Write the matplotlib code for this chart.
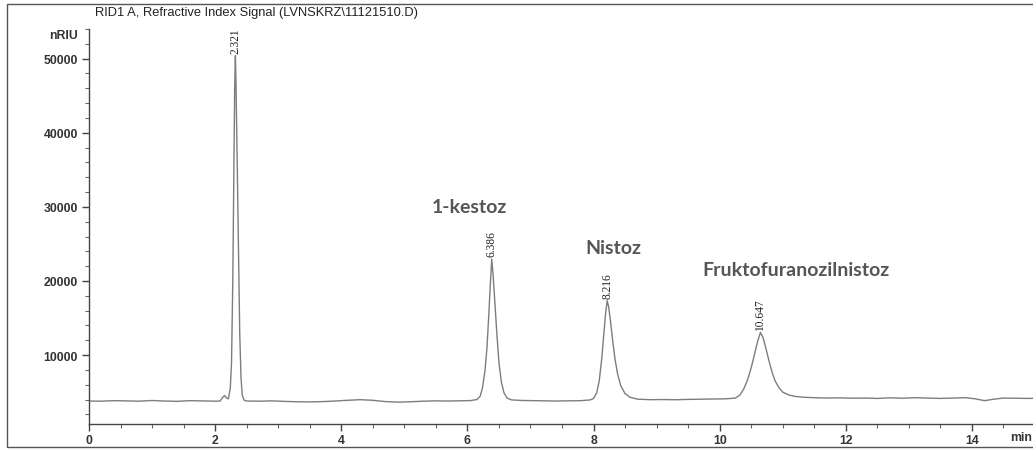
import matplotlib

matplotlib.use("Agg")
import matplotlib.pyplot as plt
from matplotlib.patches import Rectangle
from matplotlib.ticker import MultipleLocator

# retention time (min) and detector signal (nRIU)
trace_t = [
    0.00, 0.20, 0.40, 0.60, 0.80, 1.00, 1.20, 1.40, 1.60, 1.80, 2.00, 2.08,
    2.12, 2.15, 2.18, 2.21, 2.24, 2.26, 2.28, 2.30, 2.31, 2.321, 2.33, 2.35,
    2.37, 2.39, 2.41, 2.43, 2.46, 2.50, 2.70, 2.90, 3.10, 3.30, 3.50, 3.70,
    3.90, 4.10, 4.30, 4.50, 4.70, 4.90, 5.10, 5.30, 5.50, 5.70, 5.90, 6.05,
    6.15, 6.20, 6.24, 6.28, 6.31, 6.34, 6.36, 6.386, 6.41, 6.44, 6.47, 6.50,
    6.54, 6.58, 6.63, 6.70, 6.85, 7.00, 7.20, 7.40, 7.60, 7.80, 7.95, 8.00,
    8.05, 8.09, 8.13, 8.16, 8.19, 8.216, 8.24, 8.27, 8.30, 8.34, 8.38, 8.43,
    8.50, 8.58, 8.70, 8.90, 9.10, 9.30, 9.50, 9.70, 9.90, 10.10, 10.25, 10.32,
    10.38, 10.44, 10.50, 10.55, 10.60, 10.647, 10.69, 10.73, 10.78, 10.83,
    10.88, 10.94, 11.00, 11.10, 11.20, 11.35, 11.50, 11.70, 11.90, 12.10,
    12.30, 12.50, 12.70, 12.90, 13.10, 13.30, 13.50, 13.70, 13.90, 14.05,
    14.20, 14.35, 14.50, 14.70, 14.90, 15.00,
]
trace_v = [
    3800, 3780, 3850, 3820, 3780, 3870, 3800, 3760, 3850, 3820, 3780, 3800,
    4300, 4550, 4200, 4100, 5500, 9000, 20000, 38000, 46000, 50400, 47000, 36000,
    24000, 13000, 7000, 4600, 3900, 3800, 3780, 3820, 3750, 3700, 3680, 3720,
    3800, 3900, 3980, 3900, 3720, 3650, 3700, 3780, 3820, 3800, 3830, 3860,
    4000, 4400, 5600, 8000, 11000, 15500, 19000, 22950, 20500, 16500, 12500, 9000,
    6300, 4900, 4200, 3950, 3880, 3860, 3830, 3800, 3820, 3850, 3950, 4150,
    4900, 6500, 9500, 12500, 15500, 17340, 16500, 14500, 12200, 9500, 7500, 5900,
    4800, 4300, 4050, 3980, 4000, 3970, 4020, 4050, 4080, 4100, 4200, 4600,
    5400, 6600, 8300, 10000, 11800, 13070, 12300, 11000, 9300, 7700,
    6500, 5600, 5000, 4600, 4420, 4300, 4250, 4200, 4230, 4180,
    4200, 4150, 4230, 4180, 4250, 4200, 4150, 4200, 4250, 4100,
    3850, 4050, 4200, 4180, 4150, 4180,
]

peak_rt = [2.321, 6.386, 8.216, 10.647]
peak_top = [50400, 22950, 17340, 13070]
peak_labels = ["2.321", "6.386", "8.216", "10.647"]

compound_names = ["1-kestoz", "Nistoz", "Fruktofuranozilnistoz"]
compound_xy = [(6.03, 30100), (8.32, 24450), (11.21, 21600)]

x_ticks = [0, 2, 4, 6, 8, 10, 12, 14]
y_ticks = [10000, 20000, 30000, 40000, 50000]

W, H = 1033, 452
fig = plt.figure(figsize=(W / 100, H / 100), dpi=100)
ax = fig.add_axes([89 / W, 1 - 425 / H, 946 / W, 395 / H])

ax.plot(trace_t, trace_v, color="#7d7d7d", linewidth=1.0)

ax.set_xlim(0, 15)
ax.set_ylim(700, 54000)
ax.set_xticks(x_ticks)
ax.set_yticks(y_ticks)
ax.xaxis.set_minor_locator(MultipleLocator(0.5))
ax.yaxis.set_minor_locator(MultipleLocator(2000))
for side in ("top", "right"):
    ax.spines[side].set_visible(False)
for side in ("left", "bottom"):
    ax.spines[side].set_color("#444444")
    ax.spines[side].set_linewidth(1.0)
ax.tick_params(which="major", direction="out", length=5, width=1.0, color="#444444",
               labelsize=8.8, labelcolor="#333333", pad=3)
ax.tick_params(which="minor", direction="out", length=3, width=0.8, color="#666666")
ax.tick_params(axis="x", pad=2)
for lab in ax.get_xticklabels() + ax.get_yticklabels():
    lab.set_fontfamily("Liberation Sans")
    lab.set_fontweight("bold")

for rt, top, lab in zip(peak_rt, peak_top, peak_labels):
    ax.annotate(lab, (rt, top), xytext=(0, 2), textcoords="offset points",
                rotation=90, ha="center", va="bottom", fontsize=8.3,
                family="Liberation Serif", color="#222222")

for name, (x, y) in zip(compound_names, compound_xy):
    ax.text(x, y, name, ha="center", va="center", fontsize=14, fontweight="bold",
            family="Lato", color="#555555")

ax.text(14.6, -0.018, "min", transform=ax.get_xaxis_transform(), ha="left", va="top",
        fontsize=8.8, fontweight="bold", family="Liberation Sans", color="#333333")

fig.text(78 / W, 1 - 36 / H, "nRIU", ha="right", va="center", fontsize=8.8,
         fontweight="bold", family="Liberation Sans", color="#333333")
fig.text(95 / W, 1 - 13 / H, "RID1 A, Refractive Index Signal (LVNSKRZ\\11121510.D)",
         ha="left", va="center", fontsize=9.3, family="Liberation Sans", color="#222222")

fig.patches.append(Rectangle((7 / W, 1 - 448 / H), 1.1, 443 / H, transform=fig.transFigure,
                             fill=False, edgecolor="#555555", linewidth=1.0))

fig.savefig("out.png", dpi=100)
